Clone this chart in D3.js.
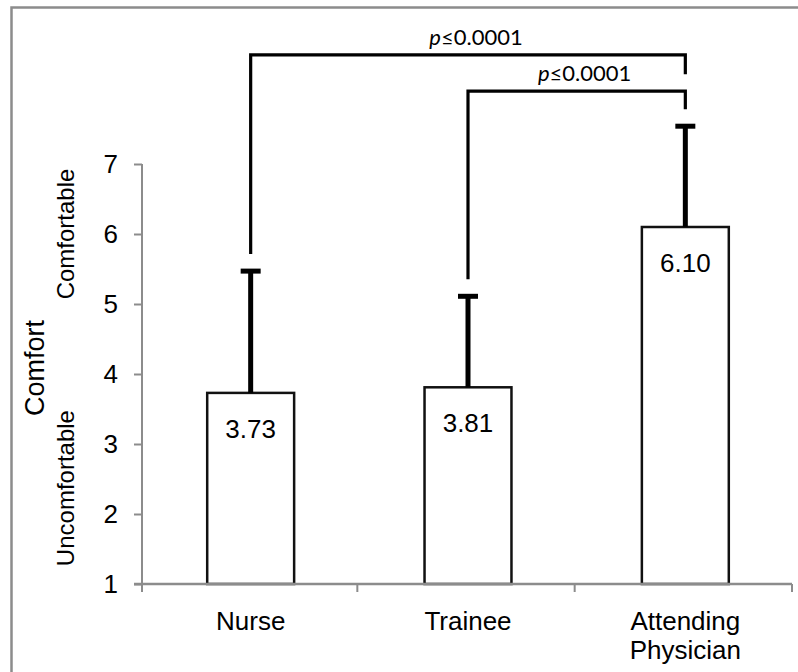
<!DOCTYPE html>
<meta charset="utf-8">
<style>
  body { margin: 0; background: #fff; }
  text { font-family: "Liberation Sans", Arial, sans-serif; fill: #000; }
</style>
<body>
<script src="https://cdnjs.cloudflare.com/ajax/libs/d3/7.8.5/d3.min.js"></script>
<script>

var width = 798,
    height = 672;

// data
var groups = ["Nurse", "Trainee", "Attending Physician"];
var means = [3.73, 3.81, 6.10];
var errTops = [5.47, 5.11, 7.54];
var yTicks = [1, 2, 3, 4, 5, 6, 7];
var pLabels = ["p≤0.0001", "p≤0.0001"];
// brackets: [from group, to group, level (in axis units)]
var brackets = [[0, 2, 8.56], [1, 2, 8.04]];

var margin = {left: 142, right: 4, top: 164, bottom: 88};

var x = d3.scaleBand()
    .domain(groups)
    .range([margin.left, width - margin.right])
    .paddingInner(0.6)
    .paddingOuter(0.3);

// band step without padding for the tick positions
var xs = d3.scaleBand()
    .domain(groups)
    .range([margin.left, width - margin.right]);

var y = d3.scaleLinear()
    .domain([1, 7])
    .range([height - margin.bottom, margin.top]);

var svg = d3.select("body").append("svg")
    .attr("width", width)
    .attr("height", height);

// frame
svg.append("rect")
    .attr("x", 11.5).attr("y", 7.5)
    .attr("width", width + 10).attr("height", height + 10)
    .attr("fill", "none")
    .attr("stroke", "#8c8c8c")
    .attr("stroke-width", 2.5);

// y axis
var yAxis = svg.append("g")
    .attr("transform", "translate(" + margin.left + ",0)")
    .call(d3.axisLeft(y).tickValues(yTicks).tickSize(8).tickPadding(16).tickFormat(d3.format("d")));
yAxis.select(".domain").attr("stroke", "#8c8c8c").attr("stroke-width", 2)
    .attr("d", "M0," + y(7) + "V" + (y(1) + 8));
yAxis.selectAll(".tick line").attr("stroke", "#8c8c8c").attr("stroke-width", 2);
yAxis.selectAll(".tick text")
    .style("font-size", "26px")
    .style("font-family", "'Liberation Sans', Arial, sans-serif")
    .attr("fill", "#000");

// bars
svg.selectAll("rect.bar")
    .data(groups)
  .enter().append("rect")
    .attr("class", "bar")
    .attr("x", function(d) { return x(d); })
    .attr("width", x.bandwidth())
    .attr("y", function(d, i) { return y(means[i]); })
    .attr("height", function(d, i) { return y(1) - y(means[i]); })
    .attr("fill", "#fff")
    .attr("stroke", "#111")
    .attr("stroke-width", 2.5);

// x axis (drawn over the bar bottoms)
var xAxisG = svg.append("g");
xAxisG.append("line")
    .attr("x1", margin.left - 8).attr("x2", width - margin.right - 2)
    .attr("y1", y(1)).attr("y2", y(1))
    .attr("stroke", "#8c8c8c").attr("stroke-width", 2.5);
xAxisG.selectAll("line.tk")
    .data(groups)
  .enter().append("line")
    .attr("class", "tk")
    .attr("x1", function(d) { return xs(d) + xs.bandwidth() - 2; })
    .attr("x2", function(d) { return xs(d) + xs.bandwidth() - 2; })
    .attr("y1", y(1)).attr("y2", y(1) + 8)
    .attr("stroke", "#8c8c8c").attr("stroke-width", 2);

// x labels
groups.forEach(function(g) {
  var t = svg.append("text")
      .attr("text-anchor", "middle")
      .style("font-size", "26px")
      .attr("x", x(g) + x.bandwidth() / 2)
      .attr("y", 630);
  g.split(" ").forEach(function(w, k) {
    t.append("tspan")
        .attr("x", x(g) + x.bandwidth() / 2)
        .attr("dy", k ? 29 : 0)
        .text(w);
  });
});

// error bars
var cx = function(i) { return x(groups[i]) + x.bandwidth() / 2; };
groups.forEach(function(g, i) {
  svg.append("line")
      .attr("x1", cx(i)).attr("x2", cx(i))
      .attr("y1", y(means[i])).attr("y2", y(errTops[i]))
      .attr("stroke", "#000").attr("stroke-width", 5);
  svg.append("line")
      .attr("x1", cx(i) - 10).attr("x2", cx(i) + 10)
      .attr("y1", y(errTops[i])).attr("y2", y(errTops[i]))
      .attr("stroke", "#000").attr("stroke-width", 5);
});

// value labels
svg.selectAll("text.val")
    .data(means)
  .enter().append("text")
    .attr("class", "val")
    .attr("text-anchor", "middle")
    .style("font-size", "26px")
    .attr("x", function(d, i) { return cx(i); })
    .attr("y", function(d) { return y(d) + 45; })
    .text(function(d) { return d.toFixed(2); });

// significance brackets
var gap = 17;
brackets.forEach(function(b, k) {
  var x1 = cx(b[0]), x2 = cx(b[1]), yl = y(b[2]);
  var d = "M" + x1 + "," + (y(errTops[b[0]]) - gap) +
          "V" + yl + "H" + x2 +
          "V" + (k === 0 ? y(brackets[1][2]) - gap : y(errTops[b[1]]) - gap);
  svg.append("path")
      .attr("d", d)
      .attr("fill", "none")
      .attr("stroke", "#000")
      .attr("stroke-width", 3.2);
  var t = svg.append("text")
      .attr("text-anchor", "middle")
      .attr("x", (x1 + x2) / 2 + 8)
      .attr("y", yl - 10)
      .style("font-family", "Lato, 'Open Sans', sans-serif")
      .style("font-size", "22px");
  t.append("tspan").style("font-style", "italic").text(pLabels[k].slice(0, 1));
  t.append("tspan").text(pLabels[k].slice(1));
});

// y axis titles
function vtext(txt, cxp, cyp, size) {
  svg.append("text")
      .attr("transform", "translate(" + cxp + "," + cyp + ") rotate(-90)")
      .attr("text-anchor", "middle")
      .attr("dominant-baseline", "central")
      .style("font-size", size + "px")
      .text(txt);
}
vtext("Comfort", 35, 368, 27);
vtext("Comfortable", 65, y(6.0), 24);
vtext("Uncomfortable", 65, y(2.37), 24);

</script>
